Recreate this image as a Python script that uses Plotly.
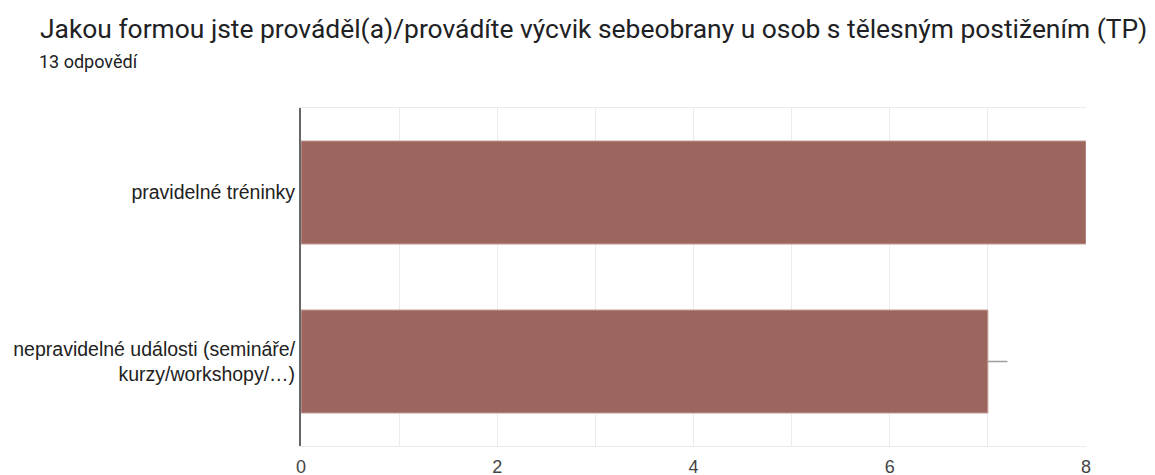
import plotly.graph_objects as go

title_text = "Jakou formou jste prováděl(a)/provádíte výcvik sebeobrany u osob s tělesným postižením (TP)"
subtitle_text = "13 odpovědí"
categories = ["pravidelné tréninky", "nepravidelné události (semináře/<br>kurzy/workshopy/…)"]
counts = [8, 7]
leader_len = [0.03, 0.2]
x_ticks = [0, 2, 4, 6, 8]

bar_color = "#9C665E"
grid_color = "#EBEBEB"

# page body has an 8px margin; plot area target: x 301..1086, y 108..446
fig = go.Figure()
fig.add_trace(go.Bar(
    x=counts,
    y=categories,
    orientation="h",
    width=0.61,
    marker=dict(color=bar_color, line=dict(color="#C9A39D", width=1)),
    error_x=dict(type="data", symmetric=False, array=leader_len,
                 arrayminus=[0 for _ in counts], color="#9E9E9E",
                 thickness=1.5, width=0),
    hoverinfo="skip",
))

fig.update_layout(
    width=1155, height=475,
    margin=dict(l=293, r=77, t=100, b=37, autoexpand=False),
    paper_bgcolor="white", plot_bgcolor="white",
    showlegend=False,
    annotations=[
        dict(text=title_text, xref="paper", yref="paper",
             x=(38 - 301) / 785, y=(446 - 29) / 338, xanchor="left", yanchor="middle",
             showarrow=False, font=dict(family="Roboto", size=26.4, color="#202124")),
        dict(text=subtitle_text, xref="paper", yref="paper",
             x=(37 - 301) / 785, y=(446 - 62) / 338, xanchor="left", yanchor="middle",
             showarrow=False, font=dict(family="Roboto", size=18, color="#202124")),
    ],
)

fig.update_xaxes(
    automargin=False,
    range=[0, max(x_ticks)],
    tickvals=x_ticks,
    ticktext=[str(v) for v in x_ticks],
    showgrid=True, gridcolor=grid_color, gridwidth=1,
    minor=dict(dtick=1, showgrid=True, gridcolor=grid_color, gridwidth=1),
    zeroline=False,
    showline=True, mirror=True, linecolor=grid_color, linewidth=1,
    tickfont=dict(family="Liberation Sans", size=18, color="#444444"),
    ticks="", ticklabelstandoff=4,
    fixedrange=True,
)
fig.update_yaxes(
    automargin=False,
    autorange="reversed",
    showgrid=False,
    showline=True, linecolor="#666666", linewidth=2,
    tickfont=dict(family="Liberation Sans", size=19.5, color="#222222"),
    ticks="", ticklabelstandoff=0,
    fixedrange=True,
)

fig.write_html("out.html")
